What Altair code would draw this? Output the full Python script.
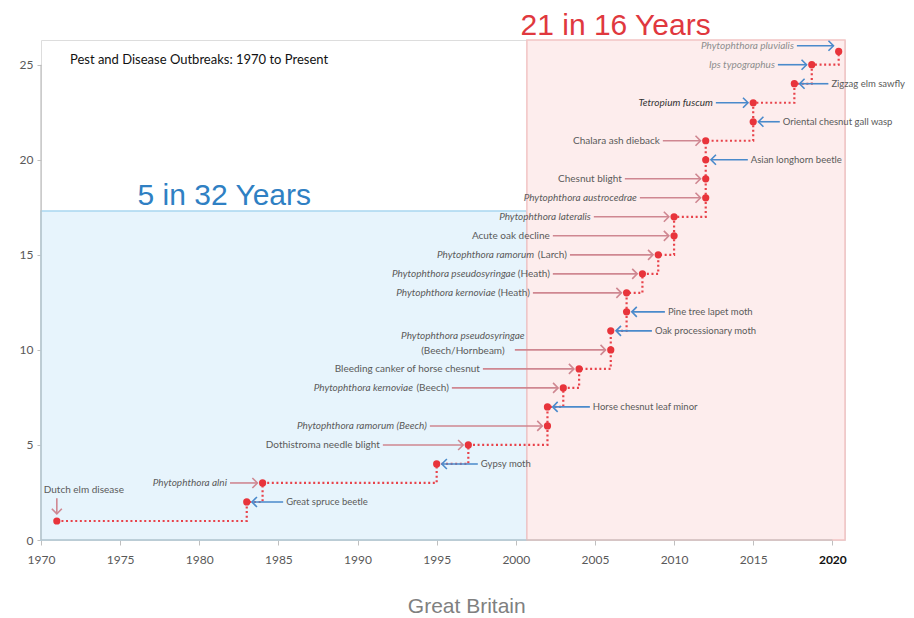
import altair as alt
import pandas as pd

# ---------------- data ----------------
years = [1971, 1983, 1984, 1995, 1997, 2002, 2002, 2003, 2004, 2006, 2006, 2007, 2007,
         2008, 2009, 2010, 2010, 2012, 2012, 2012, 2012, 2015, 2015, 2017.6, 2018.7, 2020.4]
counts = list(range(1, 26)) + [25.7]
italic_part = ["", "", "Phytophthora alni", "", "", "Phytophthora ramorum (Beech)", "",
               "Phytophthora kernoviae", "", "Phytophthora pseudosyringae", "", "",
               "Phytophthora kernoviae", "Phytophthora pseudosyringae", "Phytophthora ramorum",
               "", "Phytophthora lateralis", "Phytophthora austrocedrae", "", "", "", "",
               "Tetropium fuscum", "", "Ips typographus", "Phytophthora pluvialis"]
plain_part = ["Dutch elm disease", "Great spruce beetle", "", "Gypsy moth",
              "Dothistroma needle blight", "", "Horse chesnut leaf minor", "(Beech)",
              "Bleeding canker of horse chesnut", "(Beech/Hornbeam)", "Oak processionary moth",
              "Pine tree lapet moth", "(Heath)", "(Heath)", "(Larch)", "Acute oak decline", "",
              "", "Chesnut blight", "Asian longhorn beetle", "Chalara ash dieback",
              "Oriental chesnut gall wasp", "", "Zigzag elm sawfly", "", ""]
kinds = ["top", "right", "left", "right", "left", "left", "right", "left", "left", "stack",
         "right", "right", "left", "left", "left", "left", "left", "left", "left", "right",
         "left", "right", "left", "right", "left", "left"]
tails = [None, 1985.3, 1981.94, 1997.6, 1991.6, 1994.57, 2004.68, 1995.96, 1997.92, 1999.94,
         2008.6, 2009.42, 2001.08, 2002.34, 2003.42, 2002.34, 2004.93, 2007.84, 2006.89,
         2014.66, 2009.29, 2016.68, 2012.64, 2019.75, 2016.56, 2017.76]
arrow_tone = ["pink", "blue", "pink", "blue", "pink", "pink", "blue", "pink", "pink", "pink",
              "blue", "blue", "pink", "pink", "pink", "pink", "pink", "pink", "pink", "blue",
              "pink", "blue", "blue", "blue", "blue", "blue"]
label_ink = ["dark"] * 22 + ["black", "dark", "light", "light"]

x_ticks = list(range(1970, 2021, 5))
y_ticks = list(range(0, 26, 5))

period_name = ["5 in 32 Years", "21 in 16 Years"]
period_start = [1970, 2000.7]
period_end = [2000.7, 2020.8]
period_top = [17.3, 26.3]
headline_x = [1976.1, 2000.3]
headline_y = [17.62, 26.56]

chart_title = "Pest and Disease Outbreaks: 1970 to Present"
country = "Great Britain"

# ---------------- styles ----------------
RED = "#e8343b"
LF = "Lato"
FS = 10
WF = 0.95  # Lato width relative to Helvetica metrics (for the short suffixes)
HELV = {' ': 278, '(': 333, ')': 333, '/': 278, 'A': 667, 'B': 667, 'C': 722, 'D': 722,
        'E': 667, 'F': 611, 'G': 778, 'H': 722, 'I': 278, 'L': 556, 'M': 833, 'O': 778,
        'P': 667, 'S': 667, 'T': 611, 'Y': 667, 'Z': 611, 'a': 556, 'b': 556, 'c': 500,
        'd': 556, 'e': 556, 'f': 278, 'g': 556, 'h': 556, 'i': 222, 'k': 500, 'l': 222,
        'm': 833, 'n': 556, 'o': 556, 'p': 556, 'r': 333, 's': 500, 't': 278, 'u': 556,
        'w': 722, 'y': 500, 'z': 500}


def text_width(s, fs=FS, factor=WF):
    return sum(HELV.get(ch, 556) for ch in s) * factor * fs / 1000.0


xs = alt.Scale(domain=[1970, 2020.8], nice=False, zero=False)
ys = alt.Scale(domain=[0, 26.3], nice=False, zero=False)
xaxis = alt.Axis(values=x_ticks, format="d", domain=False, grid=False, tickColor="#bfbfbf",
                 tickSize=5, labelFont=LF, labelFontSize=12, labelPadding=9, labelFlush=False,
                 labelColor={"condition": {"test": "datum.value == 2020", "value": "#111111"},
                             "value": "#595959"},
                 labelFontWeight={"condition": {"test": "datum.value == 2020", "value": "bold"},
                                  "value": "normal"},
                 title=None)
yaxis = alt.Axis(values=y_ticks, domain=False, grid=False, tickColor="#bfbfbf", tickSize=4,
                 labelFont=LF, labelFontSize=12, labelColor="#595959", labelPadding=4,
                 labelFlush=False, title=None)


def X(field):
    return alt.X(field, type="quantitative", scale=xs, axis=xaxis, title=None)


def Y(field):
    return alt.Y(field, type="quantitative", scale=ys, axis=yaxis, title=None)


tone_scale = alt.Scale(domain=["pink", "blue"], range=["#cf8791", "#4a8acb"])
ink_scale = alt.Scale(domain=["dark", "light", "black"], range=["#5a5a5a", "#8d8d8d", "#333333"])

# ---------------- tables ----------------
df = pd.DataFrame({"year": years, "count": counts, "italic": italic_part, "plain": plain_part,
                   "kind": kinds, "tail": tails, "tone": arrow_tone, "ink": label_ink})
df["level"] = df["count"]
df.loc[df.index[-1], "level"] = 26.0
gap = 0.33
df["head"] = [y + gap if k == "right" else y - gap for y, k in zip(df["year"], df["kind"])]
df["angle"] = df["kind"].map({"left": 0, "stack": 0, "right": 180, "top": 90})

side = df[df["kind"] != "top"].copy()
top = df[df["kind"] == "top"].copy()
top["y_from"] = top["count"] + 1.2
top["y_to"] = top["count"] + 0.38
top["label_y"] = top["count"] + 1.63

heads = pd.concat([
    pd.DataFrame({"hx": side["head"], "hy": side["level"], "angle": side["angle"], "tone": side["tone"]}),
    pd.DataFrame({"hx": top["year"], "hy": top["y_to"], "angle": top["angle"], "tone": top["tone"]}),
])

periods = pd.DataFrame({"name": period_name, "x0": period_start, "x1": period_end,
                        "y1": period_top, "y0": [0, 0], "hx": headline_x, "hy": headline_y})

axis_lines = pd.DataFrame({"x0": [min(x_ticks), min(x_ticks)], "x1": [max(x_ticks), min(x_ticks)],
                           "y0": [0, 0], "y1": [0, max(y_ticks)]})

# ---------------- layers ----------------
rects = alt.Chart(periods).mark_rect(strokeWidth=1.5).encode(
    x=X("x0"), x2="x1", y=Y("y0"), y2="y1",
    fill=alt.Fill("name:N", scale=alt.Scale(domain=period_name, range=["#e7f4fc", "#fdeded"]), legend=None),
    stroke=alt.Stroke("name:N", scale=alt.Scale(domain=period_name, range=["#a9d6f0", "#f2c4c4"]), legend=None),
)

axes_rules = alt.Chart(axis_lines).mark_rule(color="#bfbfbf", strokeWidth=1.2).encode(
    x=X("x0"), x2="x1", y=Y("y0"), y2="y1")

step = alt.Chart(df).mark_line(interpolate="step-after", strokeDash=[2, 2.6], strokeWidth=2.2,
                               color="#e8424a").encode(x=X("year"), y=Y("count"), order="count:Q")

arrows = alt.Chart(side).mark_rule(strokeWidth=1.6).encode(
    x=X("tail"), x2="head", y=Y("level"),
    color=alt.Color("tone:N", scale=tone_scale, legend=None))

top_arrow = alt.Chart(top).mark_rule(strokeWidth=1.6).encode(
    x=X("year"), y=Y("y_from"), y2="y_to",
    color=alt.Color("tone:N", scale=tone_scale, legend=None))

arrowheads = alt.Chart(heads).mark_point(shape="M-1,-1L0,0L-1,1", filled=False, size=100,
                                         strokeWidth=1.6, opacity=1).encode(
    x=X("hx"), y=Y("hy"), angle=alt.Angle("angle:Q", scale=None),
    color=alt.Color("tone:N", scale=tone_scale, legend=None))

points = alt.Chart(df).mark_circle(size=52, color=RED, opacity=1).encode(x=X("year"), y=Y("count"))

ink = alt.Color("ink:N", scale=ink_scale, legend=None)
lefts = side[side["kind"] == "left"]

left_plain = alt.Chart(lefts[(lefts["italic"] == "") & (lefts["plain"] != "")]).mark_text(
    align="right", baseline="middle", dx=-3, font=LF, fontSize=FS).encode(
    x=X("tail"), y=Y("level"), text="plain:N", color=ink)

left_italic = alt.Chart(lefts[(lefts["italic"] != "") & (lefts["plain"] == "")]).mark_text(
    align="right", baseline="middle", dx=-3, font=LF, fontSize=FS, fontStyle="italic").encode(
    x=X("tail"), y=Y("level"), text="italic:N", color=ink)

mixed = lefts[(lefts["italic"] != "") & (lefts["plain"] != "")]
mixed_layers = [alt.Chart(mixed).mark_text(align="right", baseline="middle", dx=-3, font=LF,
                                           fontSize=FS).encode(
    x=X("tail"), y=Y("level"), text="plain:N", color=ink)]
for suffix in sorted(mixed["plain"].unique()):
    w = text_width(" " + suffix)
    mixed_layers.append(
        alt.Chart(mixed[mixed["plain"] == suffix]).mark_text(
            align="right", baseline="middle", dx=-3 - w, font=LF, fontSize=FS,
            fontStyle="italic").encode(x=X("tail"), y=Y("level"), text="italic:N", color=ink))

rights = side[side["kind"] == "right"]
right_labels = alt.Chart(rights).mark_text(align="left", baseline="middle", dx=3, font=LF,
                                           fontSize=9.5).encode(
    x=X("tail"), y=Y("level"), text="plain:N", color=ink)

stack = side[side["kind"] == "stack"]
stack_top = alt.Chart(stack).mark_text(align="center", baseline="middle", dx=-52, dy=-14,
                                       font=LF, fontSize=FS, fontStyle="italic").encode(
    x=X("tail"), y=Y("level"), text="italic:N", color=ink)
stack_bottom = alt.Chart(stack).mark_text(align="center", baseline="middle", dx=-52, dy=1,
                                          font=LF, fontSize=FS).encode(
    x=X("tail"), y=Y("level"), text="plain:N", color=ink)

top_label = alt.Chart(top).mark_text(align="center", baseline="middle", dx=27, font=LF,
                                     fontSize=FS).encode(
    x=X("year"), y=Y("label_y"), text="plain:N", color=ink)

headlines = alt.Chart(periods).mark_text(align="left", baseline="alphabetic",
                                         font="Liberation Sans", fontSize=30).encode(
    x=X("hx"), y=Y("hy"), text="name:N",
    color=alt.Color("name:N", scale=alt.Scale(domain=period_name, range=["#2f80c3", "#e0383e"]),
                    legend=None))

title_df = pd.DataFrame({"t": [chart_title], "x": [1971.83], "y": [25.25]})
title_text = alt.Chart(title_df).mark_text(align="left", baseline="middle", font=LF,
                                           fontSize=13, color="#111111").encode(
    x=X("x"), y=Y("y"), text="t:N")

country_df = pd.DataFrame({"t": [country], "x": [1996.9], "y": [-3.84]})
country_text = alt.Chart(country_df).mark_text(align="center", baseline="alphabetic",
                                               font="Liberation Sans", fontSize=21,
                                               color="#808080").encode(
    x=X("x"), y=Y("y"), text="t:N")

chart = alt.layer(
    rects, axes_rules, step, arrows, top_arrow, arrowheads, points,
    left_plain, left_italic, *mixed_layers, right_labels, stack_top, stack_bottom, top_label,
    headlines, title_text, country_text,
).resolve_scale(color="independent").properties(
    width=804, height=500, autosize="none",
    padding={"left": 33, "top": 32, "right": 61, "bottom": 78},
).configure_view(stroke=None).configure(background="white")

chart.save("out.html", embed_options={"renderer": "svg", "actions": False})
